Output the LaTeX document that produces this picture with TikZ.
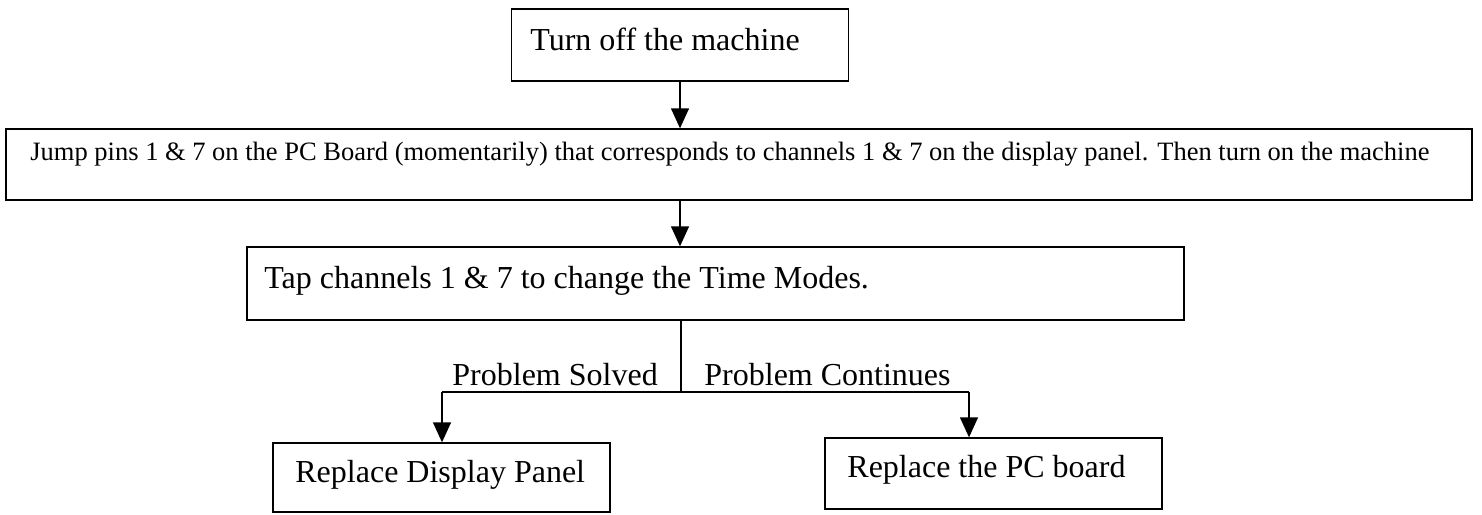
\documentclass[tikz,border=0pt]{standalone}
\usepackage{fontspec}
\setmainfont{Liberation Serif}
\usetikzlibrary{arrows.meta,calc}
\begin{document}
\begin{tikzpicture}[x=0.5pt,y=-0.5pt,
  box/.style={draw,line width=0.7pt,rectangle,inner sep=0pt},
  txt/.style={inner sep=0pt,anchor=base west,font=\fontsize{16}{19}\selectfont},
  smalltxt/.style={inner sep=0pt,anchor=base west,font=\fontsize{13.25}{16}\selectfont},
  arr/.style={line width=0.7pt,-{Triangle[width=9pt,length=10pt]}},
  ln/.style={line width=0.7pt}]
\useasboundingbox (0,0) rectangle (1482,514);
% boxes
\node[box,minimum width=168.5pt,minimum height=36pt] (b1) at (680,45) {};
\node[box,minimum width=733pt,minimum height=35.5pt] (b2) at (739,164.5) {};
\node[box,minimum width=468.5pt,minimum height=36.5pt] (b3) at (715.5,283.5) {};
\node[box,minimum width=168.5pt,minimum height=34.5pt] (b4) at (441.5,477.5) {};
\node[box,minimum width=168.5pt,minimum height=35.5pt] (b5) at (993.5,473.5) {};
% texts
\node[txt] (t1) at (530,50) {Turn off the machine};
\node[smalltxt] (t2) at (30,160) {Jump pins 1 \& 7 on the PC Board (momentarily) that corresponds to channels 1 \& 7 on the display panel. Then turn on the machine};
\node[txt] (t3) at (264,288) {Tap channels 1 \& 7 to change the Time Modes.};
\node[txt] (t4) at (295,482) {Replace Display Panel};
\node[txt] (t5) at (847,477) {Replace the PC board};
\node[txt] (l1) at (452,385) {Problem Solved};
\node[txt] (l2) at (704,385) {Problem Continues};
% connectors
\coordinate (split) at (681,392);
\coordinate (lc) at (442,392);
\coordinate (rc) at (969,392);
\draw[arr] (b1.south) -- (b1.south |- b2.north);
\draw[arr] (b1.south |- b2.south) -- (b1.south |- b3.north);
\draw[ln] (split |- b3.south) -- (split);
\draw[ln] (lc) -- (rc);
\draw[arr] (lc) -- (lc |- b4.north);
\draw[arr] (rc) -- (rc |- b5.north);
\end{tikzpicture}
\end{document}
